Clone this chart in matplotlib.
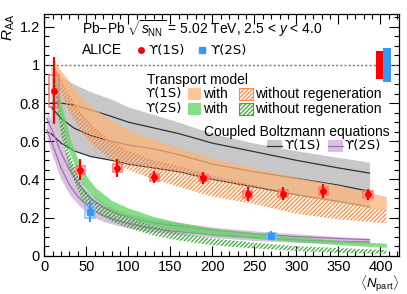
import matplotlib
matplotlib.use("Agg")
import matplotlib.pyplot as plt
from matplotlib.patches import Rectangle
from matplotlib.lines import Line2D
from matplotlib.ticker import MultipleLocator, FuncFormatter

plt.rcParams['font.family'] = ['Liberation Sans', 'DejaVu Sans']
plt.rcParams['mathtext.fontset'] = 'custom'
plt.rcParams['mathtext.rm'] = 'Liberation Sans'
plt.rcParams['mathtext.it'] = 'Liberation Sans:italic'
plt.rcParams['hatch.linewidth'] = 0.9

# -- ALICE data ---------------------------------------------------------------
npart_1s = [11.5, 43, 87, 131, 189, 242, 284, 332, 385]
raa_1s = [0.864, 0.450, 0.459, 0.412, 0.407, 0.322, 0.325, 0.339, 0.322]
stat_1s = [0.175, 0.055, 0.047, 0.033, 0.030, 0.037, 0.035, 0.035, 0.030]
syst_1s = [0.085, 0.022, 0.020, 0.018, 0.018, 0.018, 0.018, 0.020, 0.018]

npart_2s = [54.5, 270]
raa_2s = [0.230, 0.104]
stat_2s = [0.055, 0.024]
syst_2s = [0.030, 0.016]

glob_x = [399, 408]
glob_w = [8.5, 9.5]
glob_unc = [0.072, 0.088]

# -- Transport model (with / without regeneration) -----------------------------
n_tr = [12, 20, 30, 45, 60, 80, 100, 130, 160, 200, 250, 300, 350, 407]
tr1s_with_hi = [1.02, 0.97, 0.91, 0.83, 0.77, 0.71, 0.66, 0.61, 0.57, 0.51, 0.46, 0.41, 0.37, 0.31]
tr1s_with_lo = [0.98, 0.90, 0.82, 0.72, 0.65, 0.58, 0.54, 0.49, 0.46, 0.42, 0.37, 0.32, 0.28, 0.238]
tr1s_wo_hi = [0.99, 0.92, 0.84, 0.74, 0.67, 0.60, 0.55, 0.50, 0.47, 0.42, 0.37, 0.32, 0.28, 0.238]
tr1s_wo_lo = [0.95, 0.85, 0.75, 0.64, 0.57, 0.50, 0.45, 0.40, 0.36, 0.31, 0.27, 0.22, 0.19, 0.17]

tr2s_with_hi = [0.98, 0.80, 0.62, 0.45, 0.36, 0.29, 0.25, 0.205, 0.175, 0.145, 0.12, 0.10, 0.08, 0.065]
tr2s_with_lo = [0.92, 0.72, 0.54, 0.38, 0.30, 0.235, 0.20, 0.155, 0.13, 0.105, 0.09, 0.073, 0.058, 0.044]
tr2s_wo_hi = [0.95, 0.74, 0.54, 0.36, 0.29, 0.235, 0.20, 0.155, 0.12, 0.09, 0.068, 0.05, 0.04, 0.03]
tr2s_wo_lo = [0.88, 0.64, 0.45, 0.29, 0.23, 0.18, 0.145, 0.105, 0.08, 0.055, 0.038, 0.025, 0.015, 0.01]

# -- Coupled Boltzmann equations ------------------------------------------------
n_bz = [8, 20, 35, 55, 80, 100, 130, 160, 200, 250, 300, 350, 387]
bz1s_hi = [1.00, 0.94, 0.90, 0.86, 0.82, 0.78, 0.74, 0.70, 0.64, 0.59, 0.55, 0.515, 0.49]
bz1s_l1 = [0.80, 0.80, 0.79, 0.765, 0.73, 0.70, 0.67, 0.64, 0.59, 0.545, 0.50, 0.46, 0.433]
bz1s_l2 = [0.78, 0.72, 0.67, 0.63, 0.60, 0.58, 0.56, 0.53, 0.48, 0.44, 0.405, 0.37, 0.3375]
bz1s_lo = [0.64, 0.59, 0.55, 0.52, 0.50, 0.48, 0.46, 0.44, 0.40, 0.36, 0.32, 0.285, 0.256]

n_bz2 = [3, 10, 20, 30, 40, 55, 70, 90, 120, 150, 200, 250, 300, 350, 387]
bz2s_hi = [0.76, 0.70, 0.60, 0.50, 0.42, 0.33, 0.28, 0.235, 0.20, 0.18, 0.15, 0.13, 0.115, 0.10, 0.092]
bz2s_l1 = [0.72, 0.65, 0.54, 0.45, 0.38, 0.30, 0.255, 0.215, 0.18, 0.16, 0.135, 0.115, 0.10, 0.09, 0.084]
bz2s_l2 = [0.66, 0.58, 0.46, 0.37, 0.31, 0.245, 0.21, 0.18, 0.15, 0.13, 0.11, 0.095, 0.083, 0.075, 0.072]
bz2s_lo = [0.62, 0.52, 0.40, 0.32, 0.27, 0.21, 0.18, 0.155, 0.13, 0.115, 0.095, 0.08, 0.07, 0.066, 0.065]

C_GRAY = "#c8c8c8"
C_PURP = "#dcc0e2"
C_PURP_LINE = "#a070b0"
C_ORANGE = "#fbb478"
C_ORANGE_H = "#ff8a3a"
C_GREEN = "#5fd35f"
C_GREEN_H = "#3aaa3a"
C_RED = "#ff0000"
C_BLUE = "#3399ff"
HATCH = "////////"
UPS = ["DejaVu Sans"]  # curly upsilon glyph

fig = plt.figure(figsize=(4.07, 2.94), dpi=100)
ax = fig.add_axes([0.1088, 0.1303, 0.8715, 0.8221])

# Boltzmann bands + lines (under the transport bands)
ax.fill_between(n_bz, bz1s_lo, bz1s_hi, color=C_GRAY, lw=0, zorder=1)
for l in (bz1s_l1, bz1s_l2, bz1s_lo):
    ax.plot(n_bz, l, color="#333333", lw=0.9, zorder=2)
ax.fill_between(n_bz2, bz2s_lo, bz2s_hi, color=C_PURP, lw=0, zorder=1)
for l in (bz2s_l1, bz2s_l2):
    ax.plot(n_bz2, l, color=C_PURP_LINE, lw=0.9, zorder=2)

# transport model
ax.fill_between(n_tr, tr1s_with_lo, tr1s_with_hi, color=C_ORANGE, alpha=0.75, lw=0, zorder=3)
ax.fill_between(n_tr, tr1s_wo_lo, tr1s_wo_hi, facecolor="none", edgecolor=C_ORANGE_H,
                hatch=HATCH, lw=0, zorder=4)
ax.fill_between(n_tr, tr2s_with_lo, tr2s_with_hi, color=C_GREEN, alpha=0.75, lw=0, zorder=3)
ax.fill_between(n_tr, tr2s_wo_lo, tr2s_wo_hi, facecolor="none", edgecolor=C_GREEN_H,
                hatch=HATCH, lw=0, zorder=4)

ax.axhline(1.0, color="#777777", ls=(0, (1.5, 1.5)), lw=1.0, zorder=2)

# global uncertainties
ax.bar(glob_x[0], 2 * glob_unc[0], bottom=1 - glob_unc[0], width=glob_w[0], color=C_RED, zorder=6)
ax.bar(glob_x[1], 2 * glob_unc[1], bottom=1 - glob_unc[1], width=glob_w[1], color=C_BLUE, zorder=6)

# data: syst boxes then stat bars
BOXW = 11
for x, y, s in zip(npart_1s, raa_1s, syst_1s):
    ax.add_patch(Rectangle((x - BOXW / 2, y - s), BOXW, 2 * s, fill=False,
                           edgecolor="#ff7070", lw=1.1, zorder=7))
for x, y, s in zip(npart_2s, raa_2s, syst_2s):
    ax.add_patch(Rectangle((x - BOXW / 2, y - s), BOXW, 2 * s, fill=False,
                           edgecolor="#80c0ff", lw=1.1, zorder=7))
ax.errorbar(npart_1s, raa_1s, yerr=stat_1s, fmt="o", color=C_RED, ms=4, elinewidth=1.5,
            capsize=0, zorder=8)
ax.errorbar(npart_2s, raa_2s, yerr=stat_2s, fmt="s", color=C_BLUE, ms=4, elinewidth=1.5,
            capsize=0, zorder=8)

# axes
ax.set_xlim(0, 422)
ax.set_ylim(0, 1.267)
ax.xaxis.set_major_locator(MultipleLocator(50))
ax.xaxis.set_minor_locator(MultipleLocator(10))
ax.yaxis.set_major_locator(MultipleLocator(0.2))
ax.yaxis.set_minor_locator(MultipleLocator(0.05))
ax.yaxis.set_major_formatter(FuncFormatter(lambda v, p: f"{v:g}"))
ax.tick_params(which="both", direction="in", top=True, right=True, labelsize=10.5, width=0.8)
ax.tick_params(which="major", length=7, pad=3)
ax.tick_params(which="minor", length=3.5)
for s in ax.spines.values():
    s.set_linewidth(0.9)
ax.set_ylabel(r"$R_{\rm AA}$", loc="top", fontsize=11, labelpad=2)
ax.set_xlabel(r"$\langle N_{\rm part}\rangle$", loc="right", fontsize=9.5, labelpad=-1)
ax.xaxis.set_label_coords(1.0, -0.072)

# text + legend
FS = 10
T = ax.transAxes
ax.text(0.106, 0.938, r"Pb$-$Pb $\sqrt{s_{\rm NN}}$ = 5.02 TeV, 2.5 < $y$ < 4.0",
        transform=T, fontsize=FS, va="center")
ax.text(0.106, 0.851, "ALICE", transform=T, fontsize=FS, va="center")
ax.plot([0.273], [0.851], "o", color=C_RED, ms=4, transform=T, clip_on=False)
ax.text(0.293, 0.851, "ϒ(1S)", transform=T, fontsize=9.5, family=UPS, va="center")
ax.plot([0.444], [0.851], "s", color=C_BLUE, ms=4, transform=T, clip_on=False)
ax.text(0.468, 0.851, "ϒ(2S)", transform=T, fontsize=9.5, family=UPS, va="center")

ax.text(0.289, 0.727, "Transport model", transform=T, fontsize=FS, va="center")
for yy, lab, cs, ch in [(0.669, "ϒ(1S)", C_ORANGE, C_ORANGE_H), (0.607, "ϒ(2S)", C_GREEN, C_GREEN_H)]:
    ax.text(0.285, yy, lab, transform=T, fontsize=9.5, family=UPS, va="center")
    ax.add_patch(Rectangle((0.406, yy - 0.025), 0.036, 0.05, transform=T, facecolor=cs,
                           alpha=0.75, lw=0, zorder=9))
    ax.text(0.447, yy, "with", transform=T, fontsize=FS, va="center")
    ax.add_patch(Rectangle((0.549, yy - 0.025), 0.04, 0.05, transform=T, facecolor="none",
                           edgecolor=ch, hatch=HATCH, lw=0.8, zorder=9))
    ax.text(0.595, yy, "without regeneration", transform=T, fontsize=FS, va="center")

ax.text(0.974, 0.512, "Coupled Boltzmann equations", transform=T, fontsize=FS,
        va="center", ha="right")
for x0, lab, cs, cl in [(0.629, "ϒ(1S)", C_GRAY, "#333333"), (0.80, "ϒ(2S)", C_PURP, C_PURP_LINE)]:
    ax.add_patch(Rectangle((x0, 0.454 - 0.025), 0.041, 0.05, transform=T, facecolor=cs,
                           lw=0, zorder=9))
    ax.add_line(Line2D([x0, x0 + 0.041], [0.454, 0.454], transform=T, color=cl, lw=0.9, zorder=10))
    ax.text(x0 + 0.047, 0.454, lab, transform=T, fontsize=9.5, family=UPS, va="center")

fig.savefig("out.png", dpi=100)
